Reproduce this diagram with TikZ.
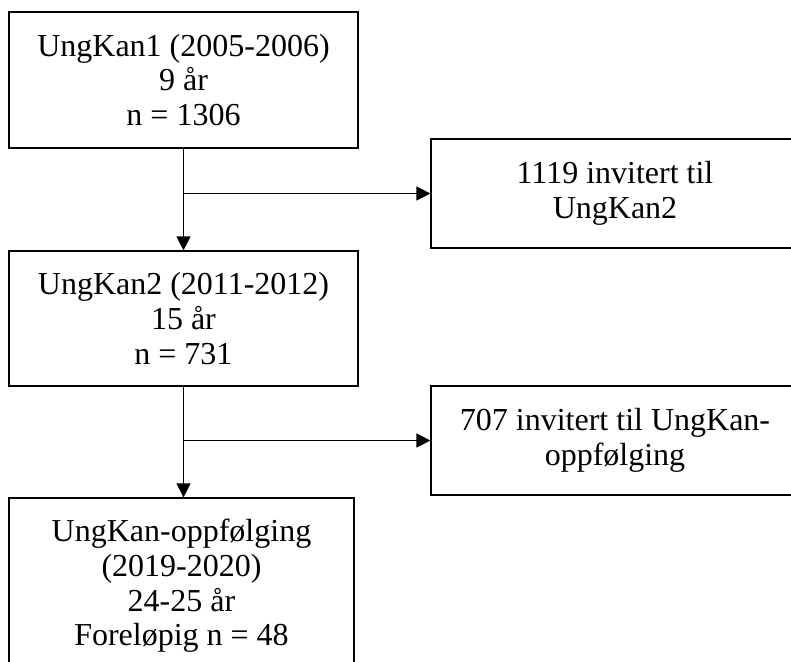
\documentclass[tikz,border=0pt]{standalone}
\usepackage{fontspec}
\setmainfont{Liberation Serif}
\usetikzlibrary{arrows.meta,positioning}
\tikzset{
  box/.style={draw, line width=0.9pt, align=center, inner sep=0pt},
  mainbox/.style={box, minimum width=261.75pt},
  invbox/.style={box, minimum width=276pt, minimum height=81.75pt},
  arr/.style={-{Triangle[length=10.5pt, width=10.5pt]}, line width=0.9pt},
}
\begin{document}
\begin{tikzpicture}[x=0.75pt, y=-0.75pt, font=\fontsize{24}{26}\selectfont]
  % Frame
  \useasboundingbox (0,0) rectangle (791,661);
  \clip (0,0) rectangle (791,661);
  % Main column
  \node[mainbox, minimum height=102pt] (ung1) at (183.5,80) {UngKan1 (2005-2006)\\9 år\\n = 1306};
  \node[mainbox, minimum height=101.25pt] (ung2) at (183.5,318.5) {UngKan2 (2011-2012)\\15 år\\n = 731};
  \node[box, minimum width=258.75pt, minimum height=132pt] (ung3) at (181.5,586) {UngKan-oppfølging\\(2019-2020)\\24-25 år\\Foreløpig n = 48};
  % Invited boxes
  \node[invbox] (inv1) at (615,193.5) {1119 invitert til\\UngKan2};
  \node[invbox] (inv2) at (615,440.5) {707 invitert til UngKan-\\oppfølging};
  % Split points
  \coordinate (split1) at (ung1.south |- inv1.west);
  \coordinate (split2) at (ung2.south |- inv2.west);
  % Arrows
  \draw[arr] (ung1.south) -- (ung2.north);
  \draw[arr] (split1) -- (inv1.west);
  \draw[arr] (ung2.south) -- (ung2.south |- ung3.north);
  \draw[arr] (split2) -- (inv2.west);
\end{tikzpicture}
\end{document}
